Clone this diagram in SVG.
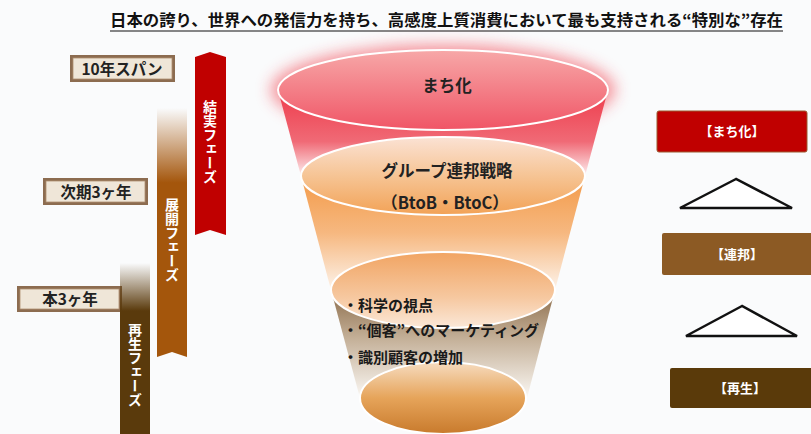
<svg xmlns="http://www.w3.org/2000/svg" width="811" height="434" viewBox="0 0 811 434">
<defs>
<style>
.t{font-family:"Noto Sans CJK JP","Noto Sans",sans-serif;font-weight:bold;}
.lbl{font-size:15.5px;fill:#222;text-anchor:middle;}
.vt{font-size:14px;fill:#fff;writing-mode:vertical-rl;}
.ft{font-size:16.5px;fill:#222;text-anchor:middle;}
.bl{font-size:15px;fill:#1a1a1a;}
.rb{font-size:13px;fill:#fff;text-anchor:middle;}
.tri{fill:#fff;stroke:#111;stroke-width:2.5;stroke-linejoin:miter;}
.lout{fill:#8c6c50;}
.lin{fill:#efe6d8;stroke:#b09070;stroke-width:0.8;}
</style>
<linearGradient id="gBar2" x1="0" y1="0" x2="0" y2="1">
<stop offset="0" stop-color="#a4560c" stop-opacity="0"/>
<stop offset="0.3" stop-color="#a4560c" stop-opacity="1"/>
<stop offset="1" stop-color="#a4560c"/>
</linearGradient>
<linearGradient id="gBar3" x1="0" y1="0" x2="0" y2="1">
<stop offset="0" stop-color="#5a3a0c" stop-opacity="0"/>
<stop offset="0.28" stop-color="#5a3a0c" stop-opacity="1"/>
<stop offset="1" stop-color="#5a3a0c"/>
</linearGradient>
<linearGradient id="gS1" x1="0" y1="0" x2="0" y2="1">
<stop offset="0" stop-color="#ee3b4b"/>
<stop offset="0.6" stop-color="#f06a76"/>
<stop offset="1" stop-color="#fdf0f0"/>
</linearGradient>
<linearGradient id="gS2" x1="0" y1="0" x2="0" y2="1">
<stop offset="0" stop-color="#f39a48"/>
<stop offset="0.5" stop-color="#f6b880"/>
<stop offset="1" stop-color="#fdf3ea"/>
</linearGradient>
<linearGradient id="gS3" x1="0" y1="0" x2="0" y2="1">
<stop offset="0" stop-color="#8a6a48"/>
<stop offset="0.45" stop-color="#c4b098"/>
<stop offset="1" stop-color="#fbf8f4"/>
</linearGradient>
<linearGradient id="gE1" x1="0" y1="0" x2="0" y2="1">
<stop offset="0" stop-color="#f7a8a8"/>
<stop offset="1" stop-color="#f05566"/>
</linearGradient>
<linearGradient id="gE2" x1="0" y1="0" x2="0" y2="1">
<stop offset="0" stop-color="#fbe2d4"/>
<stop offset="0.5" stop-color="#f6c494"/>
<stop offset="1" stop-color="#f2a256"/>
</linearGradient>
<linearGradient id="gE3" x1="0" y1="0" x2="0" y2="1">
<stop offset="0" stop-color="#f1a462"/>
<stop offset="0.6" stop-color="#f6c8a0"/>
<stop offset="1" stop-color="#fbe8d8"/>
</linearGradient>
<linearGradient id="gE4" x1="0" y1="0" x2="0" y2="1">
<stop offset="0" stop-color="#f6dcc0"/>
<stop offset="0.5" stop-color="#e6a45a"/>
<stop offset="1" stop-color="#c87a2c"/>
</linearGradient>
<filter id="glow" x="-20%" y="-50%" width="140%" height="200%">
<feGaussianBlur stdDeviation="8"/>
</filter>
</defs>
<rect x="0" y="0" width="811" height="434" fill="#fafbfc"/>

<g id="title">
<text class="t" x="110" y="26" font-size="16" fill="#111" textLength="673" lengthAdjust="spacingAndGlyphs">日本の誇り、世界への発信力を持ち、高感度上質消費において最も支持される“特別な”存在</text>
<line x1="110" y1="31" x2="783" y2="31" stroke="#111" stroke-width="1.2"/>
</g>

<g id="label-10y">
<rect class="lout" x="70" y="55" width="105" height="27"/>
<rect class="lin" x="73" y="58" width="99" height="21"/>
<text class="t lbl" x="122" y="74.5">10年スパン</text>
</g>
<g id="label-next3y">
<rect class="lout" x="43" y="178" width="105" height="27"/>
<rect class="lin" x="46" y="181" width="99" height="21"/>
<text class="t lbl" x="96" y="197.5">次期3ヶ年</text>
</g>
<g id="label-this3y">
<rect class="lout" x="17" y="286" width="105" height="26"/>
<rect class="lin" x="20" y="289" width="99" height="20"/>
<text class="t lbl" x="70" y="305">本3ヶ年</text>
</g>

<g id="bar-fruition">
<path d="M195,57 L210,52 L226,57 L226,235 L210,230 L195,235 Z" fill="#c00000"/>
<text class="t vt" x="210" y="100">結実フェーズ</text>
</g>
<g id="bar-expansion">
<path d="M157,108 L187,108 L187,357 L172,352 L157,357 Z" fill="url(#gBar2)"/>
<text class="t vt" x="172" y="198">展開フェーズ</text>
</g>
<g id="bar-rebirth">
<rect x="120" y="263" width="30" height="171" fill="url(#gBar3)"/>
<text class="t vt" x="135" y="323">再生フェーズ</text>
</g>

<g id="funnel">
<ellipse cx="443" cy="90" rx="172" ry="45" fill="#f03040" opacity="0.55" filter="url(#glow)"/>
<path d="M278,90 L608,90 L585,176 L301,176 Z" fill="url(#gS1)"/>
<path d="M301,176 L585,176 L555,290 L331,290 Z" fill="url(#gS2)"/>
<path d="M331,290 L555,290 L527,398 L360,398 Z" fill="url(#gS3)"/>
<ellipse cx="443" cy="90" rx="165" ry="40" fill="url(#gE1)" stroke="#fff" stroke-width="2"/>
<ellipse cx="443" cy="176" rx="142" ry="39" fill="url(#gE2)" stroke="#fff" stroke-width="2"/>
<ellipse cx="443" cy="290" rx="112" ry="38" fill="url(#gE3)" stroke="#fff" stroke-width="2"/>
<ellipse cx="443" cy="398" rx="83" ry="36" fill="url(#gE4)" stroke="#fff" stroke-width="2"/>
<text class="t ft" x="447" y="92" font-size="17">まち化</text>
<text class="t ft" x="447" y="177">グループ連邦戦略</text>
<text class="t ft" x="445" y="209">（BtoB・BtoC）</text>
<text class="t bl" x="343" y="311">・科学の視点</text>
<text class="t bl" x="343" y="336">・“個客”へのマーケティング</text>
<text class="t bl" x="343" y="363">・識別顧客の増加</text>
</g>

<g id="right-machika">
<rect x="657" y="111" width="150" height="41" rx="2" fill="#c00000" stroke="#9a5a30" stroke-width="1"/>
<text class="t rb" x="732" y="136">【まち化】</text>
</g>
<g id="tri-1"><polygon class="tri" points="736,179 680,208 792,208"/></g>
<g id="right-renpo">
<rect x="662" y="233" width="152" height="42" rx="2" fill="#8c5a24"/>
<text class="t rb" x="737" y="259">【連邦】</text>
</g>
<g id="tri-2"><polygon class="tri" points="742,306 686,336 797,336"/></g>
<g id="right-saisei">
<rect x="670" y="368" width="145" height="40" rx="2" fill="#5a3a0a"/>
<text class="t rb" x="740" y="393">【再生】</text>
</g>
</svg>
